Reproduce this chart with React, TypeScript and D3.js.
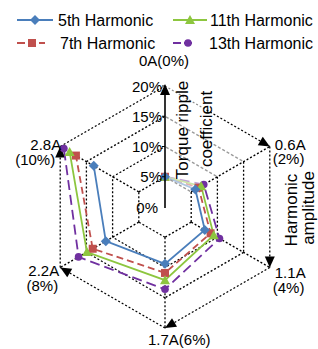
import { useEffect, useRef } from "react";
import * as d3 from "d3";

// harmonic amplitude around the hexagon (clockwise from top)
const amplitudeLabels = ["0A", "0.6A", "1.1A", "1.7A", "2.2A", "2.8A"];
const amplitudePercents = ["0%", "2%", "4%", "6%", "8%", "10%"];
const rippleTicks = [0, 5, 10, 15, 20];
const gridLevels = [5, 10, 15, 20];

// torque ripple coefficient (%) at each amplitude
const harmonic5 = [5.0, 5.8, 7.6, 9.4, 11.3, 13.6];
const harmonic7 = [5.0, 6.4, 8.7, 10.9, 13.8, 17.0];
const harmonic11 = [5.0, 6.9, 9.3, 12.1, 14.9, 18.2];
const harmonic13 = [5.0, 7.4, 10.4, 13.6, 16.5, 19.3];

const seriesNames = ["5th Harmonic", "7th Harmonic", "11th Harmonic", "13th Harmonic"];

type Series = {
  name: string;
  values: number[];
  color: string;
  dash: string;
  shape: "diamond" | "square" | "triangle" | "circle";
};

const FONT = "'Liberation Sans', Arial, sans-serif";

function markerPath(shape: Series["shape"], x: number, y: number) {
  if (shape === "diamond") return `M${x},${y - 5}L${x + 5},${y}L${x},${y + 5}L${x - 5},${y}Z`;
  if (shape === "square") return `M${x - 4},${y - 4}h8v8h-8Z`;
  if (shape === "triangle") return `M${x},${y - 5}L${x + 5},${y + 4}L${x - 5},${y + 4}Z`;
  return d3.arc()({ innerRadius: 0, outerRadius: 3.8, startAngle: 0, endAngle: 2 * Math.PI }) as string;
}

export default function App() {
  const svgRef = useRef<SVGSVGElement | null>(null);

  useEffect(() => {
    if (!svgRef.current) return;
    const cx = 165;
    const cy = 207;

    const svg = d3.select(svgRef.current);
    svg.selectAll("*").remove();

    const series: Series[] = [
      { name: seriesNames[3], values: harmonic13, color: "#7030A0", dash: "10,5", shape: "circle" },
      { name: seriesNames[1], values: harmonic7, color: "#C0504D", dash: "7,4", shape: "square" },
      { name: seriesNames[2], values: harmonic11, color: "#8DC63F", dash: "none", shape: "triangle" },
      { name: seriesNames[0], values: harmonic5, color: "#4A7EBB", dash: "none", shape: "diamond" },
    ];

    const rScale = d3.scaleLinear().domain([0, 20]).range([0, 121]);
    const angleOf = (i: number) => (i * Math.PI) / 3;
    const pt = (i: number, v: number): [number, number] => [
      cx + rScale(v) * Math.sin(angleOf(i)),
      cy - rScale(v) * Math.cos(angleOf(i)),
    ];

    const grid = svg.append("g");
    const dotted = (sel: d3.Selection<SVGLineElement, unknown, null, undefined>, color = "#000") =>
      sel
        .attr("stroke", color)
        .attr("stroke-width", 1.3)
        .attr("stroke-dasharray", color === "#000" ? "2,2" : "3,2");

    const arrow = (tip: [number, number], from: [number, number], g = grid) => {
      const dx = tip[0] - from[0];
      const dy = tip[1] - from[1];
      const len = Math.hypot(dx, dy);
      const ux = dx / len;
      const uy = dy / len;
      const bx = tip[0] - ux * 11;
      const by = tip[1] - uy * 11;
      g.append("path")
        .attr("d", `M${tip[0]},${tip[1]}L${bx - uy * 5},${by + ux * 5}L${bx + uy * 5},${by - ux * 5}Z`)
        .attr("fill", "#000");
    };

    // hexagon edges (upper-right edges of inner rings are drawn grey later)
    gridLevels.forEach((lvl) => {
      d3.range(6).forEach((i) => {
        if (i === 0 && lvl < 20) return;
        const a = pt(i, lvl);
        const b = pt((i + 1) % 6, lvl);
        dotted(grid.append("line").attr("x1", a[0]).attr("y1", a[1]).attr("x2", b[0]).attr("y2", b[1]));
      });
    });

    // spokes
    d3.range(1, 6).forEach((i) => {
      const a = pt(i, 5);
      const b = pt(i, 20);
      dotted(grid.append("line").attr("x1", a[0]).attr("y1", a[1]).attr("x2", b[0]).attr("y2", b[1]));
    });

    // clockwise arrows on the outer hexagon
    d3.range(0, 5).forEach((i) => {
      arrow(pt(i + 1, 20), pt(i, 20));
    });

    // data lines
    const line = d3
      .lineRadial<number>()
      .angle((_, i) => angleOf(i))
      .radius((d) => rScale(d));

    const plot = svg.append("g").attr("transform", `translate(${cx},${cy})`);
    series.forEach((s) => {
      plot
        .append("path")
        .attr("d", line(s.values) as string)
        .attr("fill", "none")
        .attr("stroke", s.color)
        .attr("stroke-width", 1.8)
        .attr("stroke-dasharray", s.dash);
    });

    // translucent box behind the torque title
    svg
      .append("rect")
      .attr("x", 166)
      .attr("y", 78)
      .attr("width", 39)
      .attr("height", 110)
      .attr("fill", "#fff")
      .attr("opacity", 0.55);

    gridLevels.slice(0, 3).forEach((lvl) => {
      const a = pt(0, lvl);
      const b = pt(1, lvl);
      dotted(
        svg.append("line").attr("x1", a[0] + 1).attr("y1", a[1] + 0.6).attr("x2", b[0]).attr("y2", b[1]),
        "#9a9a9a"
      );
    });

    // markers
    series.forEach((s) => {
      s.values.forEach((v, i) => {
        const [x, y] = pt(i, v);
        svg
          .append("path")
          .attr("d", markerPath(s.shape, x, y))
          .attr("transform", s.shape === "circle" ? `translate(${x},${y})` : null)
          .attr("fill", s.color);
      });
    });

    // vertical torque axis
    const axisTop = pt(0, 20);
    svg
      .append("line")
      .attr("x1", cx)
      .attr("y1", cy + 1)
      .attr("x2", cx)
      .attr("y2", axisTop[1] + 4)
      .attr("stroke", "#000")
      .attr("stroke-width", 1.6);
    arrow([cx, axisTop[1] - 2], [cx, cy], svg as any);

    rippleTicks.forEach((t) => {
      const y = pt(0, t)[1];
      if (t > 0) {
        svg.append("line").attr("x1", cx - 3).attr("x2", cx).attr("y1", y).attr("y2", y).attr("stroke", "#000");
      }
      svg
        .append("text")
        .attr("x", t === 0 ? cx - 7 : cx - 3)
        .attr("y", y + 5.5)
        .attr("text-anchor", "end")
        .attr("font-size", 15)
        .attr("font-family", FONT)
        .text(`${t}%`);
    });

    // vertex labels
    const label = (txt: string, x: number, y: number, anchor = "start") =>
      svg
        .append("text")
        .attr("x", x)
        .attr("y", y)
        .attr("text-anchor", anchor)
        .attr("font-size", 15)
        .attr("font-family", FONT)
        .text(txt);

    const v = d3.range(6).map((i) => pt(i, 20));
    label(`${amplitudeLabels[0]}(${amplitudePercents[0]})`, v[0][0] - 1, v[0][1] - 20, "middle");
    label(amplitudeLabels[1], v[1][0] + 5, v[1][1] + 3);
    label(`(${amplitudePercents[1]})`, v[1][0] + 3, v[1][1] + 17);
    label(amplitudeLabels[2], v[2][0] + 5, v[2][1] + 10);
    label(`(${amplitudePercents[2]})`, v[2][0] + 3, v[2][1] + 25);
    label(`${amplitudeLabels[3]}(${amplitudePercents[3]})`, v[3][0] - 17, v[3][1] + 17);
    label(amplitudeLabels[4], v[4][0] - 1, v[4][1] + 8, "end");
    label(`(${amplitudePercents[4]})`, v[4][0] - 2, v[4][1] + 23, "end");
    label(amplitudeLabels[5], v[5][0] + 1, v[5][1] + 3, "end");
    label(`(${amplitudePercents[5]})`, v[5][0] - 5, v[5][1] + 18, "end");

    // rotated titles
    const rotated = (txt: string, x: number, y: number) =>
      svg
        .append("text")
        .attr("transform", `translate(${x},${y}) rotate(-90)`)
        .attr("text-anchor", "middle")
        .attr("font-size", 17)
        .attr("font-family", FONT)
        .text(txt);
    rotated("Torque ripple", 187.5, 130);
    rotated("coefficient", 212, 129);
    rotated("Harmonic", 297, 210);
    rotated("amplitude", 314, 208);

    // legend
    const legendItems = [
      { s: series[3], x: 17, w: 36, mx: 35, tx: 58, y: 20 },
      { s: series[2], x: 173, w: 34, mx: 190, tx: 210, y: 20 },
      { s: series[1], x: 17, w: 28, mx: 32, tx: 60, y: 43 },
      { s: series[0], x: 173, w: 22, mx: 188, tx: 209, y: 43 },
    ];
    legendItems.forEach((d) => {
      svg
        .append("line")
        .attr("x1", d.x)
        .attr("x2", d.x + d.w)
        .attr("y1", d.y)
        .attr("y2", d.y)
        .attr("stroke", d.s.color)
        .attr("stroke-width", 1.8)
        .attr("stroke-dasharray", d.s.dash === "none" ? "none" : "8,3");
      svg
        .append("path")
        .attr("d", markerPath(d.s.shape, d.mx, d.y))
        .attr("transform", d.s.shape === "circle" ? `translate(${d.mx},${d.y})` : null)
        .attr("fill", d.s.color);
      svg
        .append("text")
        .attr("x", d.tx)
        .attr("y", d.y + 6)
        .attr("font-size", 16)
        .attr("font-family", FONT)
        .text(d.s.name);
    });
  }, []);

  return (
    <div style={{ position: "fixed", left: 0, top: 0, width: 318, height: 349, background: "#fff" }}>
      <svg ref={svgRef} width={318} height={349} viewBox="0 0 318 349"></svg>
    </div>
  );
}
